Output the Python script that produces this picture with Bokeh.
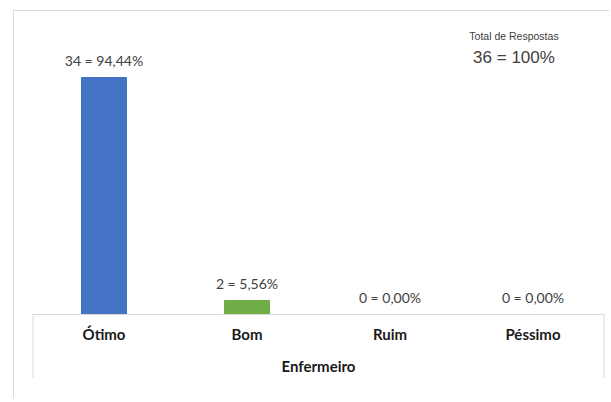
from bokeh.plotting import figure
from bokeh.models import FactorRange, Range1d, ColumnDataSource, Label
from bokeh.core.properties import value
from bokeh.embed import file_html
from bokeh.resources import INLINE

categories = ["Ótimo", "Bom", "Ruim", "Péssimo"]
counts = [34, 2, 0, 0]
percents = ["94,44%", "5,56%", "0,00%", "0,00%"]
colors = ["#4472C4", "#70AD47", "#A5A5A5", "#FFC000"]
total_count = 36
total_pct = "100%"
axis_title = "Enfermeiro"

labels = [f"{c} = {p}" for c, p in zip(counts, percents)]
src = ColumnDataSource(dict(cat=categories, n=counts, lab=labels, col=colors))

px_per_unit = 237 / 34.0
y_top = 294 / px_per_unit
y_bot = -64 / px_per_unit

p = figure(x_range=FactorRange(*categories, range_padding=0),
           y_range=Range1d(y_bot, y_top),
           width=596, height=388, output_backend="svg", toolbar_location=None,
           min_border_left=18, min_border_right=6, min_border_top=9, min_border_bottom=21)
p.styles = {"border-left": "1px solid #d9d9d9", "border-top": "1px solid #d9d9d9",
            "margin-left": "13px", "margin-top": "10px"}
p.outline_line_color = None
p.xgrid.visible = False
p.ygrid.visible = False
p.yaxis.visible = False

p.vbar(x="cat", top="n", bottom=0, width=0.315, color="col", source=src)
p.text(x="cat", y="n", text="lab", source=src, text_align="center", text_baseline="bottom",
       y_offset=-9, text_font=value("Lato"), text_font_size="14px", text_color="#404040")

# axis box lines (synthetic categorical coordinates 0..4)
n_cat = len(categories)
p.segment(x0=[0], y0=[0], x1=[n_cat], y1=[0], line_color="#d9d9d9", line_width=1)
p.segment(x0=[0, n_cat], y0=[0, 0], x1=[0, n_cat], y1=[y_bot, y_bot],
          line_color="#d9d9d9", line_width=2)

ax = p.xaxis[0]
ax.axis_line_color = None
ax.major_tick_line_color = None
ax.minor_tick_line_color = None
ax.major_tick_out = 0
ax.major_tick_in = 0
ax.major_label_standoff = -54
ax.major_label_text_font = "Lato"
ax.major_label_text_font_style = "bold"
ax.major_label_text_font_size = "15px"
ax.major_label_text_color = "#1a1a1a"
ax.axis_label = axis_title
ax.axis_label_standoff = 11
ax.axis_label_text_font = "Lato"
ax.axis_label_text_font_style = "bold"
ax.axis_label_text_font_size = "15px"
ax.axis_label_text_color = "#1a1a1a"

p.add_layout(Label(x=3.367, y=39.93, text="Total de Respostas",
                   text_align="center", text_baseline="middle", text_font="Liberation Sans",
                   text_font_size="10.5px", text_color="#404040"))
p.add_layout(Label(x=3.367, y=36.87, text=f"{total_count} = {total_pct}",
                   text_align="center", text_baseline="middle", text_font="Liberation Sans",
                   text_font_size="17px", text_color="#404040"))

open("out.html", "w").write(file_html(p, INLINE))
